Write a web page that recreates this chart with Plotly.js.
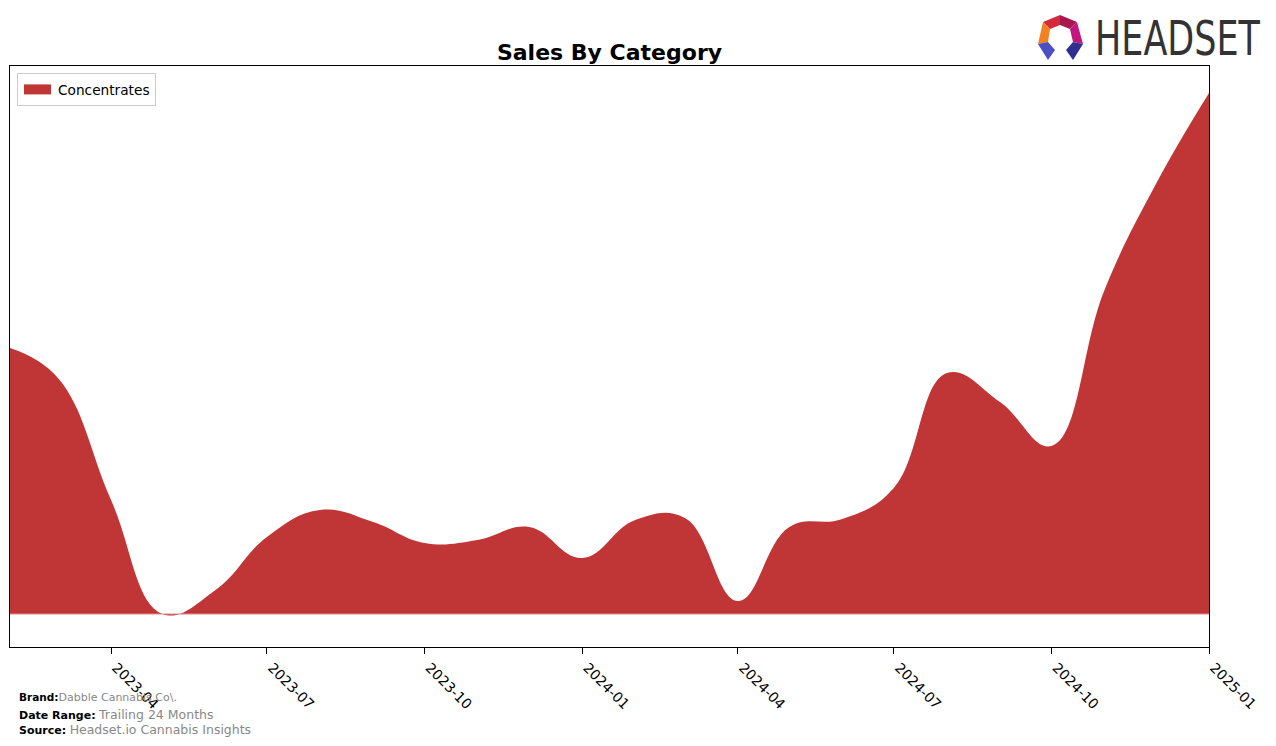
<!DOCTYPE html>
<html>
<head>
<meta charset="utf-8">
<script src="https://cdn.plot.ly/plotly-3.0.1.min.js"></script>
<style>
html,body{margin:0;padding:0;background:#fff;}
#chart{width:1276px;height:746px;}
</style>
</head>
<body>
<div id="chart"></div>
<script>
// Monthly data (relative sales units)
const months = ["2023-02-01","2023-03-01","2023-04-01","2023-05-01","2023-06-01","2023-07-01",
  "2023-08-01","2023-09-01","2023-10-01","2023-11-01","2023-12-01","2024-01-01",
  "2024-02-01","2024-03-01","2024-04-01","2024-05-01","2024-06-01","2024-07-01",
  "2024-08-01","2024-09-01","2024-10-01","2024-11-01","2024-12-01","2025-01-01"];
const concentrates = [266,236,114,0,24,77,104,92,71,74,87,56,94,96,13,87,95,126,241,212,168,324,430,521];
const tickVals = ["2023-04-01","2023-07-01","2023-10-01","2024-01-01","2024-04-01","2024-07-01","2024-10-01","2025-01-01"];
const tickText = ["2023-04","2023-07","2023-10","2024-01","2024-04","2024-07","2024-10","2025-01"];

const W=1276,H=746, L=10, R=1209, T=66, B=647;
const px = x => (x-L)/(R-L);
const py = y => (B-y)/(B-T);
function poly(pts, color){
  let d = pts.map((p,i)=>(i?'L':'M')+px(p[0]).toFixed(5)+','+py(p[1]).toFixed(5)).join(' ')+' Z';
  return {type:'path', xref:'paper', yref:'paper', path:d, fillcolor:color, line:{width:0}, layer:'above'};
}

const trace = {
  x: months, y: concentrates, type:'scatter', mode:'lines', name:'Concentrates',
  line:{shape:'spline', smoothing:1.2, width:0, color:'#c03535'},
  fill:'tozeroy', fillcolor:'#c03535', hoverinfo:'x+y'
};

const shapes = [
  {type:'line', xref:'paper', yref:'y', x0:0, x1:1, y0:0, y1:0, line:{color:'#e08a8a', width:1}, layer:'above'},
  poly([[1043,22],[1060,15],[1060,25],[1050,29]], '#d42a3c'),
  poly([[1060,15],[1077,22],[1070,29],[1060,25]], '#a8174e'),
  poly([[1043,22],[1050,29],[1048,42],[1038,44]], '#f28124'),
  poly([[1077,22],[1083,44],[1073,42],[1070,29]], '#c0187e'),
  poly([[1038,44],[1048,42],[1055,50],[1048,60]], '#4a4fc4'),
  poly([[1083,44],[1073,42],[1066,50],[1073,60]], '#2f2f8f')
];

const annotations = [
  {xref:'paper', yref:'paper', x:px(1093), y:py(38), xanchor:'left', yanchor:'middle', showarrow:false,
   text:'HEADSET', font:{family:'DejaVu Sans', size:35, color:'#333333'}},
  {xref:'paper', yref:'paper', x:px(17), y:py(697), xanchor:'left', yanchor:'middle', showarrow:false,
   text:'<b>Brand:</b><span style="color:#888;font-size:11px">Dabble Cannabis Co\\.</span>', font:{family:'DejaVu Sans', size:10.5, color:'#000'}},
  {xref:'paper', yref:'paper', x:px(17), y:py(714), xanchor:'left', yanchor:'middle', showarrow:false,
   text:'<b>Date Range:</b> <span style="color:#888;font-size:12.5px">Trailing 24 Months</span>', font:{family:'DejaVu Sans', size:11, color:'#000'}},
  {xref:'paper', yref:'paper', x:px(17), y:py(729), xanchor:'left', yanchor:'middle', showarrow:false,
   text:'<b>Source:</b> <span style="color:#888;font-size:12.5px">Headset.io Cannabis Insights</span>', font:{family:'DejaVu Sans', size:11, color:'#000'}}
];

const layout = {
  width:W, height:H,
  margin:{l:L, r:W-R, t:T, b:H-B},
  paper_bgcolor:'#fff', plot_bgcolor:'#fff',
  font:{family:'DejaVu Sans', color:'#000'},
  title:{text:'<b>Sales By Category</b>', x:0.5, xref:'paper', y:1-52/H, yref:'container', yanchor:'middle',
    font:{family:'DejaVu Sans', size:22, color:'#000'}},
  showlegend:true,
  legend:{x:px(17), y:py(73), xanchor:'left', yanchor:'top', bgcolor:'#fff', bordercolor:'#cccccc', borderwidth:1,
    font:{family:'DejaVu Sans', size:13.7, color:'#000'}, tracegroupgap:0},
  xaxis:{type:'date', range:['2023-02-01','2025-01-01'], tickvals:tickVals, ticktext:tickText, tickangle:45,
    ticklabelshift:5,
    ticks:'outside', ticklen:6, tickcolor:'#000', tickfont:{family:'DejaVu Sans', size:14, color:'#000'},
    showline:true, linecolor:'#000', linewidth:1, mirror:true, showgrid:false, zeroline:false},
  yaxis:{range:[-(B-614)*548/(614-T), 548], showticklabels:false, ticks:'', showgrid:false, zeroline:false,
    showline:true, linecolor:'#000', linewidth:1, mirror:true},
  shapes:shapes, annotations:annotations
};

Plotly.newPlot('chart', [trace], layout, {displayModeBar:false, staticPlot:true}).then(gd => {
  // stretch the logo wordmark vertically to the reference's tall, narrow letters
  document.querySelectorAll('.annotation-text').forEach(t => {
    if (t.textContent === 'HEADSET') {
      t.style.transformBox = 'fill-box';
      t.style.transformOrigin = 'center';
      t.style.transform = 'scaleY(1.38)';
    }
  });
  // rectangular legend swatch like the reference
  document.querySelectorAll('.legendfill path').forEach(p => {
    p.setAttribute('d', 'M6,-5h27v10h-27z');
  });
});
</script>
</body>
</html>
